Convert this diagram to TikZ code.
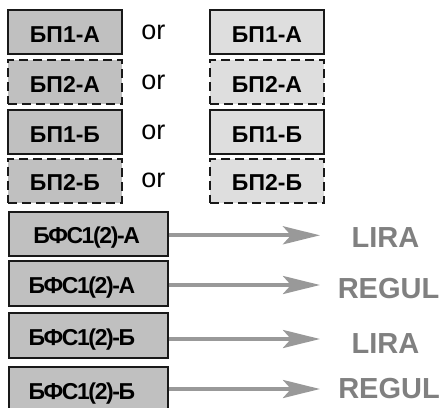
\documentclass[tikz,border=0pt]{standalone}
\usepackage{fontspec}
\setmainfont{Liberation Sans}
\usetikzlibrary{arrows.meta}
\definecolor{boxdark}{RGB}{192,192,192}
\definecolor{boxlight}{RGB}{222,222,222}
\definecolor{edgeink}{RGB}{25,25,25}
\definecolor{arrowgray}{RGB}{153,153,153}
\definecolor{labelgray}{RGB}{128,128,128}

\begin{document}
\begin{tikzpicture}[x=1pt,y=-1pt,
  unit/.style={draw=edgeink, line width=2pt, inner sep=0pt,
    minimum width=114pt, minimum height=44pt,
    font=\bfseries\fontsize{23}{27}\selectfont,
    text height=20pt, text depth=0pt},
  darkunit/.style={unit, fill=boxdark},
  lightunit/.style={unit, fill=boxlight},
  reserve/.style={dash pattern=on 9pt off 5pt},
  wideunit/.style={unit, fill=boxdark, minimum width=159pt,
    font=\bfseries\fontsize{23}{27}\selectfont\addfontfeature{LetterSpace=-6}},
  ortext/.style={inner sep=0pt, font=\fontsize{27}{31}\selectfont,
    text height=14pt, text depth=0pt},
  target/.style={inner sep=0pt, text=labelgray,
    font=\bfseries\fontsize{29}{34}\selectfont,
    text height=20.8pt, text depth=0pt},
  feed/.style={draw=arrowgray, line width=4pt,
    -{Stealth[length=37pt, width=18pt, inset=8pt]}}
]
\useasboundingbox (0,0) rectangle (444,407);

% main and reserve power units, two alternatives per row
\node[darkunit] (p1a) at (65,32.2) {БП1-А};
\node[darkunit, reserve] (p2a) at (65,82) {БП2-А};
\node[darkunit] (p1b) at (65,132) {БП1-Б};
\node[darkunit, reserve] (p2b) at (65,180.7) {БП2-Б};

\node[ortext] (or1) at (153.3,32.2) {or};
\node[ortext] (or2) at (153.3,82) {or};
\node[ortext] (or3) at (153.3,132) {or};
\node[ortext] (or4) at (153.3,180.7) {or};

\node[lightunit] (q1a) at (267,32.2) {БП1-А};
\node[lightunit, reserve] (q2a) at (267,82) {БП2-А};
\node[lightunit] (q1b) at (267,132) {БП1-Б};
\node[lightunit, reserve] (q2b) at (267,180.7) {БП2-Б};

% signal forming units and their receivers
\node[wideunit] (f1) at (88.5,233.5) {\kern-3.6pt БФС1(2)-А};
\node[wideunit, minimum height=45pt] (f2) at (88.5,283.5) {\kern-13pt БФС1(2)-А};
\node[wideunit, minimum height=45pt] (f3) at (88.5,335.5) {\kern-13pt БФС1(2)-Б};
\node[wideunit] (f4) at (88.5,389) {\kern-13pt БФС1(2)-Б};

\node[target] (t1) at (385.5,237) {LIRA};
\node[target] (t2) at (388.5,287.7) {REGUL};
\node[target] (t3) at (385.5,343) {LIRA};
\node[target] (t4) at (389,388) {REGUL};

\coordinate (e1) at (320,235.3);
\coordinate (e2) at (320,285);
\coordinate (e3) at (320,339);
\coordinate (e4) at (320,389);

\draw[feed] (f1.east |- e1) -- (e1);
\draw[feed] (f2.east |- e2) -- (e2);
\draw[feed] (f3.east |- e3) -- (e3);
\draw[feed] (f4.east |- e4) -- (e4);
\end{tikzpicture}
\end{document}
